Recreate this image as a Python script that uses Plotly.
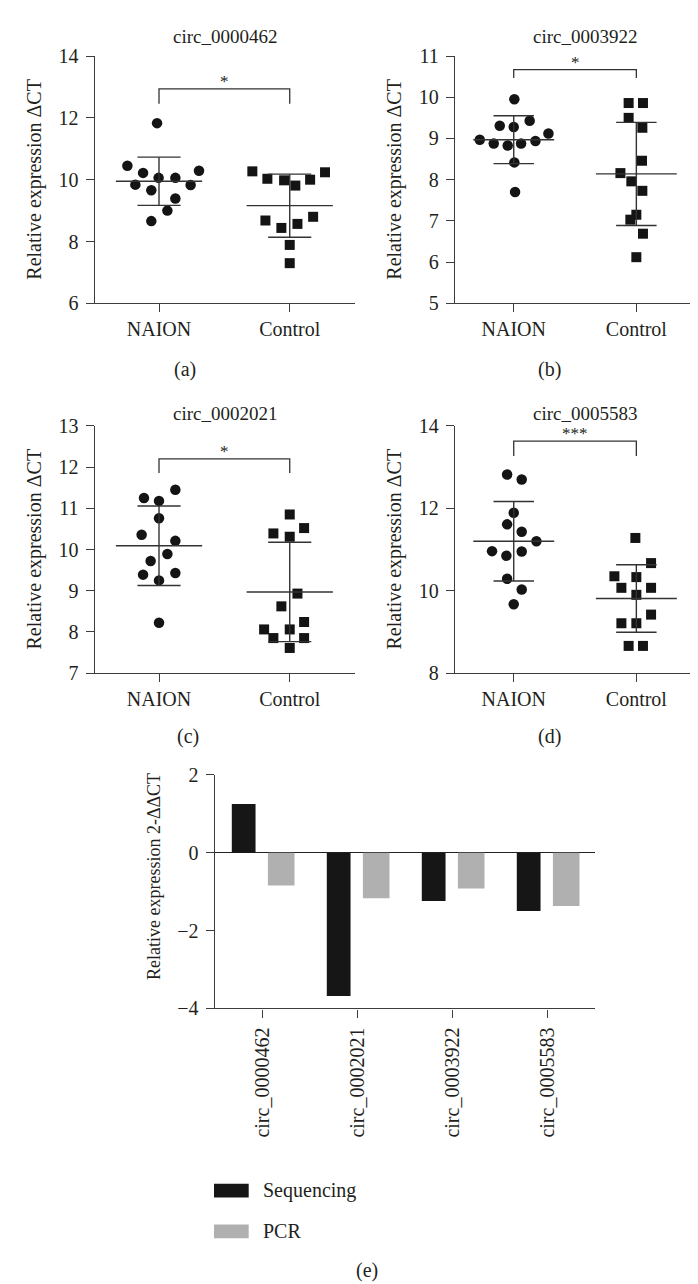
import plotly.graph_objects as go

# ---------------- data ----------------
groups = ["NAION", "Control"]
panel_titles = ["circ_0000462", "circ_0003922", "circ_0002021", "circ_0005583"]
panel_letters = ["(a)", "(b)", "(c)", "(d)"]
significance = ["*", "*", "*", "***"]

a_naion = [11.83, 10.45, 10.22, 10.29, 10.06, 10.06, 9.84, 9.83, 9.66, 9.39, 9.00, 8.66]
a_control = [10.27, 10.03, 9.98, 9.81, 10.00, 10.24, 8.68, 8.44, 8.57, 8.80, 7.89, 7.30]
b_naion = [9.95, 9.31, 9.28, 9.43, 9.12, 8.97, 8.88, 8.83, 8.88, 8.94, 8.42, 7.70]
b_control = [9.86, 9.86, 9.50, 9.26, 8.46, 8.16, 7.96, 7.73, 7.15, 7.03, 6.69, 6.12]
c_naion = [11.25, 11.18, 11.45, 10.76, 10.36, 10.21, 9.89, 9.72, 9.39, 9.43, 9.25, 8.22]
c_control = [10.85, 10.39, 10.31, 10.52, 8.93, 8.62, 8.06, 8.06, 8.24, 7.85, 7.85, 7.61]
d_naion = [12.82, 12.70, 11.89, 11.61, 11.43, 11.20, 10.96, 10.85, 10.95, 10.29, 10.03, 9.67]
d_control = [11.28, 10.67, 10.35, 10.33, 10.07, 10.07, 9.90, 9.42, 9.21, 9.21, 8.66, 8.66]

# group mean and SD as drawn: [NAION, Control]
a_mean = [9.95, 9.16]; a_sd = [0.78, 1.02]
b_mean = [8.97, 8.14]; b_sd = [0.58, 1.25]
c_mean = [10.09, 8.97]; c_sd = [0.965, 1.205]
d_mean = [11.20, 9.81]; d_sd = [0.965, 0.82]

e_categories = ["circ_0000462", "circ_0002021", "circ_0003922", "circ_0005583"]
e_sequencing = [1.25, -3.68, -1.24, -1.50]
e_pcr = [-0.84, -1.17, -0.92, -1.37]

# ---------------- layout constants (not data) ----------------
W, H = 698, 1284
# horizontal beeswarm offsets (category units), as arranged in the figure
a_naion_dx = [-0.015, -0.242, -0.122, 0.306, -0.003, 0.125, -0.181, 0.242, -0.059, 0.125, 0.064, -0.059]
a_control_dx = [-0.286, -0.171, -0.043, 0.043, 0.156, 0.270, -0.186, -0.064, 0.059, 0.179, 0.0, 0.0]
b_naion_dx = [0.005, -0.114, 0.0, 0.130, 0.283, -0.277, -0.163, -0.049, 0.060, 0.177, 0.005, 0.011]
b_control_dx = [-0.063, 0.054, -0.063, 0.049, 0.046, -0.130, -0.041, 0.049, 0.0, -0.049, 0.054, 0.0]
c_naion_dx = [-0.115, 0.0, 0.125, 0.0, -0.133, 0.125, 0.064, -0.064, -0.122, 0.125, 0.0, 0.0]
c_control_dx = [0.0, -0.125, 0.0, 0.110, 0.059, -0.064, -0.196, 0.0, 0.110, -0.125, 0.110, 0.0]
d_naion_dx = [-0.054, 0.065, 0.0, -0.054, 0.065, 0.185, -0.177, -0.060, 0.065, -0.054, 0.065, 0.0]
d_control_dx = [-0.008, 0.120, -0.179, 0.0, -0.122, 0.120, 0.0, 0.120, -0.122, 0.0, -0.063, 0.054]

panels = [
    dict(naion=a_naion, control=a_control, ndx=a_naion_dx, cdx=a_control_dx, mean=a_mean, sd=a_sd,
         xpx=(86.7, 346.7), ypx=(37.7, 289.3), xr=(-0.492, 1.497), yr=(6, 14), dtick=2,
         bracket=(12.94, 12.46), title_xy=(216.7, 18), letter_xy=(177, 357), ylab_x=27),
    dict(naion=b_naion, control=b_control, ndx=b_naion_dx, cdx=b_control_dx, mean=b_mean, sd=b_sd,
         xpx=(447, 698), ypx=(37.7, 289.3), xr=(-0.479, 1.568), yr=(5, 11), dtick=1,
         bracket=(10.67, 10.47), title_xy=(577, 18), letter_xy=(541.5, 357), ylab_x=387),
    dict(naion=c_naion, control=c_control, ndx=c_naion_dx, cdx=c_control_dx, mean=c_mean, sd=c_sd,
         xpx=(86.7, 346.7), ypx=(414, 665.5), xr=(-0.492, 1.497), yr=(7, 13), dtick=1,
         bracket=(12.20, 11.86), title_xy=(216.7, 401.5), letter_xy=(180, 730), ylab_x=27),
    dict(naion=d_naion, control=d_control, ndx=d_naion_dx, cdx=d_control_dx, mean=d_mean, sd=d_sd,
         xpx=(447, 698), ypx=(414, 665.5), xr=(-0.479, 1.568), yr=(8, 14), dtick=2,
         bracket=(13.63, 13.27), title_xy=(577, 401.5), letter_xy=(541, 730), ylab_x=387),
]

FONT = "Liberation Serif, Times New Roman, DejaVu Serif, serif"
TXT = "#231f20"
AX = "#3c3c3c"
MK = "#141414"


def px(x):
    return x / W


def py(y):
    return 1 - y / H


fig = go.Figure()
annotations = []
shapes = []
layout = {}

for i, p in enumerate(panels):
    n = i + 1
    xa = "x" if n == 1 else f"x{n}"
    ya = "y" if n == 1 else f"y{n}"
    xkey = "xaxis" if n == 1 else f"xaxis{n}"
    ykey = "yaxis" if n == 1 else f"yaxis{n}"

    # points
    fig.add_trace(go.Scatter(
        x=[0 + d for d in p["ndx"]], y=p["naion"], mode="markers", xaxis=xa, yaxis=ya,
        marker=dict(symbol="circle", size=10.5, color=MK, line=dict(width=0)), showlegend=False,
        cliponaxis=False))
    fig.add_trace(go.Scatter(
        x=[1 + d for d in p["cdx"]], y=p["control"], mode="markers", xaxis=xa, yaxis=ya,
        marker=dict(symbol="square", size=10, color=MK, line=dict(width=0)), showlegend=False,
        cliponaxis=False))

    # mean +- SD lines
    lx, ly = [], []
    for g in range(2):
        m, s = p["mean"][g], p["sd"][g]
        lx += [g - 0.33, g + 0.33, None, g - 0.165, g + 0.165, None, g - 0.165, g + 0.165, None, g, g, None]
        ly += [m, m, None, m + s, m + s, None, m - s, m - s, None, m - s, m + s, None]
    fig.add_trace(go.Scatter(x=lx, y=ly, mode="lines", xaxis=xa, yaxis=ya,
                             line=dict(color="#333333", width=1.4), showlegend=False,
                             hoverinfo="skip", cliponaxis=False))

    # significance bracket
    top, leg = p["bracket"]
    fig.add_trace(go.Scatter(x=[0, 0, 1, 1], y=[leg, top, top, leg], mode="lines", xaxis=xa, yaxis=ya,
                             line=dict(color="#333333", width=1.3), showlegend=False,
                             hoverinfo="skip", cliponaxis=False))
    annotations.append(dict(x=0.5, y=top, xref=xa, yref=ya, text=significance[i], showarrow=False,
                            yanchor="bottom", yshift=-4, font=dict(family=FONT, size=17, color=TXT)))

    layout[xkey] = dict(domain=[px(p["xpx"][0]), px(p["xpx"][1])], range=list(p["xr"]),
                        anchor=ya, tickmode="array", tickvals=[0, 1], ticktext=groups,
                        showline=True, linecolor=AX, linewidth=1.3, ticks="outside",
                        ticklen=8, tickwidth=1.3, tickcolor=AX, showgrid=False, zeroline=False,
                        tickfont=dict(family=FONT, size=20, color=TXT))
    layout[ykey] = dict(domain=[py(p["ypx"][1]), py(p["ypx"][0])], range=list(p["yr"]),
                        anchor=xa, dtick=p["dtick"], tick0=0,
                        showline=True, linecolor=AX, linewidth=1.3, ticks="outside",
                        ticklen=8, tickwidth=1.3, tickcolor=AX, showgrid=False, zeroline=False,
                        ticklabelstandoff=3,
                        tickfont=dict(family=FONT, size=20, color=TXT))

    annotations.append(dict(x=px(p["title_xy"][0]), y=py(p["title_xy"][1]), xref="paper", yref="paper",
                            text=panel_titles[i], showarrow=False, xanchor="center", yanchor="middle",
                            font=dict(family=FONT, size=19, color=TXT)))
    annotations.append(dict(x=px(p["letter_xy"][0]), y=py(p["letter_xy"][1]), xref="paper", yref="paper",
                            text=panel_letters[i], showarrow=False, xanchor="center", yanchor="middle",
                            font=dict(family=FONT, size=20, color=TXT)))
    ymid = (p["ypx"][0] + p["ypx"][1]) / 2
    annotations.append(dict(x=px(p["ylab_x"]), y=py(ymid), xref="paper", yref="paper",
                            text="Relative expression ΔCT", textangle=-90, showarrow=False,
                            xanchor="center", yanchor="middle",
                            font=dict(family=FONT, size=20, color=TXT)))

# ---------------- panel (e) ----------------
fig.add_trace(go.Bar(x=e_categories, y=e_sequencing, xaxis="x5", yaxis="y5", name="Sequencing",
                     marker=dict(color="#161616", line=dict(width=0)), offset=-0.32, width=0.25,
                     showlegend=False))
fig.add_trace(go.Bar(x=e_categories, y=e_pcr, xaxis="x5", yaxis="y5", name="PCR",
                     marker=dict(color="#b0b0b0", line=dict(width=0)), offset=0.06, width=0.28,
                     showlegend=False))

layout["xaxis5"] = dict(domain=[px(206.7), px(586.7)], range=[-0.5, 3.5], anchor="y5",
                        type="category", showline=True, linecolor=AX, linewidth=1.3,
                        ticks="outside", ticklen=8, tickwidth=1.3, tickcolor=AX, tickangle=-90,
                        showgrid=False, zeroline=False, ticklabelstandoff=2,
                        tickfont=dict(family=FONT, size=20, color=TXT))
layout["yaxis5"] = dict(domain=[py(1006.7), py(769)], range=[-4, 2], anchor="x5", dtick=2,
                        showline=True, linecolor=AX, linewidth=1.3, ticks="outside",
                        ticklen=8, tickwidth=1.3, tickcolor=AX, showgrid=False,
                        zeroline=True, zerolinecolor="#222222", zerolinewidth=1.3,
                        ticklabelstandoff=3,
                        tickfont=dict(family=FONT, size=20, color=TXT))

annotations.append(dict(x=px(146), y=py(873), xref="paper", yref="paper",
                        text="Relative expression 2-ΔΔCT", textangle=-90, showarrow=False,
                        xanchor="center", yanchor="middle", font=dict(family=FONT, size=18, color=TXT)))

# legend (drawn)
legend_items = [("Sequencing", "#161616", 1192), ("PCR", "#b0b0b0", 1233.5)]
for label, col, yc in legend_items:
    shapes.append(dict(type="rect", xref="paper", yref="paper", x0=px(206), x1=px(240.7),
                       y0=py(yc + 7), y1=py(yc - 7), fillcolor=col, line=dict(width=0)))
    annotations.append(dict(x=px(253), y=py(yc), xref="paper", yref="paper", text=label,
                            showarrow=False, xanchor="left", yanchor="middle",
                            font=dict(family=FONT, size=20, color=TXT)))

annotations.append(dict(x=px(359), y=py(1273), xref="paper", yref="paper", text="(e)",
                        showarrow=False, xanchor="center", yanchor="middle",
                        font=dict(family=FONT, size=20, color=TXT)))

fig.update_layout(width=W, height=H, margin=dict(l=0, r=0, t=0, b=0),
                  paper_bgcolor="white", plot_bgcolor="white", showlegend=False,
                  font=dict(family=FONT, color=TXT),
                  annotations=annotations, shapes=shapes, **layout)

fig.write_html("out.html")
